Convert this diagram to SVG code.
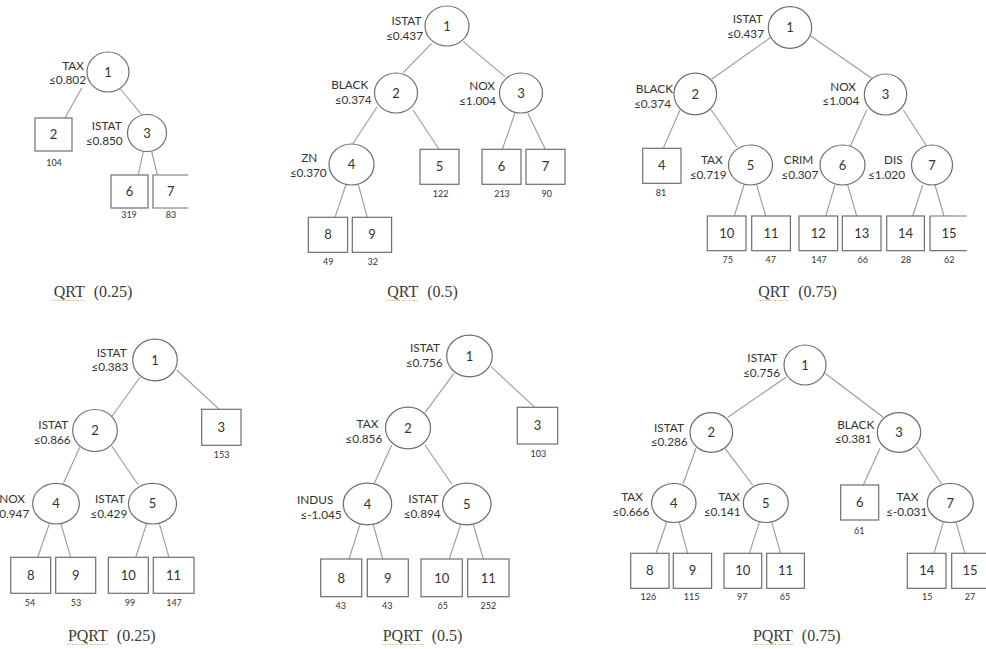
<svg xmlns="http://www.w3.org/2000/svg" width="986" height="649" viewBox="0 0 986 649">
<style>
.n{fill:#fff;stroke:#6e6e6e;stroke-width:1.2}
.b{fill:#fff;stroke:#6e6e6e;stroke-width:1.2}
.c line{stroke:#9a9a9a;stroke-width:1.1}
.id{font-family:Lato,"Open Sans",sans-serif;font-size:13px;fill:#333;text-anchor:middle}
.lb{font-family:Lato,"Open Sans",sans-serif;font-size:11.8px;fill:#333;text-anchor:end}
.ct{font-family:Lato,"Open Sans",sans-serif;font-size:9px;fill:#333;text-anchor:middle}
.tt{font-family:"Liberation Serif","Times New Roman",serif;font-size:16px;fill:#3a3a3a;text-anchor:middle}
.sq{stroke:#e0a040;stroke-width:1;stroke-dasharray:1 1.5;fill:none}
</style>
<rect width="986" height="649" fill="#fff"/>

<!-- Tree 1: QRT (0.25) -->
<g id="qrt025">
<g class="c" id="qrt025-edges">
<line x1="81.7" y1="88" x2="65" y2="118"/>
<line x1="120" y1="88.5" x2="142.7" y2="116"/>
<line x1="143.3" y1="151.5" x2="138.3" y2="175"/>
<line x1="151.7" y1="151.5" x2="157.3" y2="175"/>
</g>
<g id="qrt025-n1"><ellipse class="n" cx="108" cy="72" rx="21" ry="20"/><text class="id" x="108" y="76.5">1</text><text class="lb" x="84" y="69.5">TAX</text><text class="lb" x="86" y="83.8">≤0.802</text></g>
<g id="qrt025-n2"><rect class="b" x="35" y="118" width="37" height="33"/><text class="id" x="53.5" y="139">2</text><text class="ct" x="54" y="166">104</text></g>
<g id="qrt025-n3"><ellipse class="n" cx="147" cy="133" rx="19.5" ry="18.5"/><text class="id" x="147" y="137.5">3</text><text class="lb" x="121.7" y="130.3">ISTAT</text><text class="lb" x="122.7" y="144.5">≤0.850</text></g>
<g id="qrt025-n6"><rect class="b" x="111" y="175" width="37" height="33"/><text class="id" x="129.5" y="196">6</text><text class="ct" x="129" y="218">319</text></g>
<g id="qrt025-n7"><path class="b" d="M188.3,175 H153 V208 H188.3"/><text class="id" x="170.7" y="196">7</text><text class="ct" x="171" y="218">83</text></g>
<g id="qrt025-title"><text class="tt" x="93" y="297">QRT<tspan dx="9">(0.25)</tspan></text><line class="sq" x1="53" y1="300.5" x2="85" y2="300.5"/></g>
</g>

<!-- Tree 2: QRT (0.5) -->
<g id="qrt05">
<g class="c" id="qrt05-edges">
<line x1="431.7" y1="43.3" x2="403.3" y2="72.7"/>
<line x1="463.3" y1="41.7" x2="505" y2="76.7"/>
<line x1="377" y1="107" x2="352.7" y2="144"/>
<line x1="413" y1="110" x2="439" y2="149.3"/>
<line x1="515" y1="113" x2="502.3" y2="149.3"/>
<line x1="527.7" y1="113" x2="545.3" y2="149.3"/>
<line x1="346" y1="184.5" x2="335" y2="217.3"/>
<line x1="358.3" y1="184.5" x2="367.3" y2="217.3"/>
</g>
<g id="qrt05-n1"><ellipse class="n" cx="447" cy="26" rx="22" ry="20"/><text class="id" x="447" y="30.5">1</text><text class="lb" x="421.5" y="25">ISTAT</text><text class="lb" x="423" y="39.5">≤0.437</text></g>
<g id="qrt05-n2"><ellipse class="n" cx="396" cy="93" rx="21.5" ry="20"/><text class="id" x="396" y="97.5">2</text><text class="lb" x="368.3" y="89.3">BLACK</text><text class="lb" x="371.7" y="103.5">≤0.374</text></g>
<g id="qrt05-n3"><ellipse class="n" cx="521" cy="93" rx="21.5" ry="20"/><text class="id" x="521" y="97.5">3</text><text class="lb" x="495" y="90.3">NOX</text><text class="lb" x="496" y="104.5">≤1.004</text></g>
<g id="qrt05-n4"><ellipse class="n" cx="351.5" cy="164.5" rx="22.5" ry="20.5"/><text class="id" x="351.5" y="169">4</text><text class="lb" x="317.3" y="162.3">ZN</text><text class="lb" x="326.7" y="177.3">≤0.370</text></g>
<g id="qrt05-n5"><rect class="b" x="420" y="149.3" width="39" height="35"/><text class="id" x="439.5" y="171">5</text><text class="ct" x="440.7" y="196.6">122</text></g>
<g id="qrt05-n6"><rect class="b" x="482" y="149.3" width="39" height="35"/><text class="id" x="501.5" y="171">6</text><text class="ct" x="502" y="197">213</text></g>
<g id="qrt05-n7"><rect class="b" x="526" y="149.3" width="39" height="35"/><text class="id" x="545.5" y="171">7</text><text class="ct" x="546.7" y="196.6">90</text></g>
<g id="qrt05-n8"><rect class="b" x="308.3" y="217.3" width="39.3" height="35"/><text class="id" x="328" y="239">8</text><text class="ct" x="328.3" y="265">49</text></g>
<g id="qrt05-n9"><rect class="b" x="352.3" y="217.3" width="39.3" height="35"/><text class="id" x="372" y="239">9</text><text class="ct" x="372.7" y="265">32</text></g>
<g id="qrt05-title"><text class="tt" x="422.5" y="297">QRT<tspan dx="9">(0.5)</tspan></text><line class="sq" x1="386.5" y1="300.5" x2="418.5" y2="300.5"/></g>
</g>

<!-- Tree 3: QRT (0.75) -->
<g id="qrt075">
<g class="c" id="qrt075-edges">
<line x1="771.7" y1="36.7" x2="711.7" y2="79.3"/>
<line x1="809.3" y1="35" x2="871.7" y2="78.3"/>
<line x1="680" y1="110" x2="663.3" y2="148.3"/>
<line x1="710.7" y1="109.3" x2="736.7" y2="146.7"/>
<line x1="866.7" y1="110" x2="850" y2="146.7"/>
<line x1="903.3" y1="110" x2="926.7" y2="146"/>
<line x1="744" y1="185" x2="734.3" y2="216"/>
<line x1="756.7" y1="185" x2="765.7" y2="216"/>
<line x1="835" y1="185" x2="825.7" y2="216"/>
<line x1="847.7" y1="185" x2="856.7" y2="216"/>
<line x1="922.7" y1="185" x2="912.7" y2="216"/>
<line x1="935" y1="185" x2="944" y2="216"/>
</g>
<g id="qrt075-n1"><ellipse class="n" cx="790" cy="27.5" rx="21.7" ry="20.8"/><text class="id" x="790" y="32">1</text><text class="lb" x="762.7" y="23.3">ISTAT</text><text class="lb" x="764" y="37.6">≤0.437</text></g>
<g id="qrt075-n2"><ellipse class="n" cx="695.3" cy="94" rx="21.3" ry="20.8"/><text class="id" x="695.3" y="98.5">2</text><text class="lb" x="673" y="93.3">BLACK</text><text class="lb" x="671" y="107.6">≤0.374</text></g>
<g id="qrt075-n3"><ellipse class="n" cx="885.5" cy="94.5" rx="21.2" ry="20.5"/><text class="id" x="885.5" y="99">3</text><text class="lb" x="856" y="91">NOX</text><text class="lb" x="859.3" y="105">≤1.004</text></g>
<g id="qrt075-n4"><rect class="b" x="642.7" y="148.3" width="38.3" height="35"/><text class="id" x="661.8" y="170">4</text><text class="ct" x="661" y="196">81</text></g>
<g id="qrt075-n5"><ellipse class="n" cx="750.5" cy="165" rx="22" ry="20"/><text class="id" x="750.5" y="169.5">5</text><text class="lb" x="722.7" y="164.3">TAX</text><text class="lb" x="726.7" y="179.3">≤0.719</text></g>
<g id="qrt075-n6"><ellipse class="n" cx="842.5" cy="165" rx="22.5" ry="20"/><text class="id" x="842.5" y="169.5">6</text><text class="lb" x="813.3" y="164.3">CRIM</text><text class="lb" x="818.3" y="179.3">≤0.307</text></g>
<g id="qrt075-n7"><ellipse class="n" cx="932" cy="165" rx="20.5" ry="20"/><text class="id" x="932" y="169.5">7</text><text class="lb" x="902.7" y="164.3">DIS</text><text class="lb" x="905" y="179.3">≤1.020</text></g>
<g id="qrt075-n10"><rect class="b" x="707.3" y="216" width="38.7" height="34.7"/><text class="id" x="726.7" y="237.5">10</text><text class="ct" x="727.7" y="263.3">75</text></g>
<g id="qrt075-n11"><rect class="b" x="751.7" y="216" width="38.7" height="34.7"/><text class="id" x="771" y="237.5">11</text><text class="ct" x="770.7" y="263.3">47</text></g>
<g id="qrt075-n12"><rect class="b" x="799" y="216" width="38.7" height="34.7"/><text class="id" x="818.3" y="237.5">12</text><text class="ct" x="819" y="263.3">147</text></g>
<g id="qrt075-n13"><rect class="b" x="842.3" y="216" width="38.7" height="34.7"/><text class="id" x="861.7" y="237.5">13</text><text class="ct" x="862.7" y="263.3">66</text></g>
<g id="qrt075-n14"><rect class="b" x="886.7" y="216" width="37.7" height="34.7"/><text class="id" x="905.5" y="237.5">14</text><text class="ct" x="906" y="263.3">28</text></g>
<g id="qrt075-n15"><path class="b" d="M966.7,216 H930 V250.7 H966.7"/><text class="id" x="949" y="237.5">15</text><text class="ct" x="949.3" y="263.3">62</text></g>
<g id="qrt075-title"><text class="tt" x="797.5" y="297">QRT<tspan dx="9">(0.75)</tspan></text><line class="sq" x1="757.5" y1="300.5" x2="789.5" y2="300.5"/></g>
</g>

<!-- Tree 4: PQRT (0.25) -->
<g id="pqrt025">
<g class="c" id="pqrt025-edges">
<line x1="140" y1="377.3" x2="111.7" y2="416.7"/>
<line x1="176.7" y1="370" x2="219.3" y2="409.3"/>
<line x1="80" y1="446.7" x2="63.3" y2="483.5"/>
<line x1="111.7" y1="446" x2="138.3" y2="485"/>
<line x1="49.3" y1="524" x2="37.7" y2="557.3"/>
<line x1="61" y1="524" x2="70.7" y2="557.3"/>
<line x1="146.7" y1="523.5" x2="135.7" y2="557.3"/>
<line x1="159.3" y1="523.5" x2="169" y2="557.3"/>
</g>
<g id="pqrt025-n1"><ellipse class="n" cx="155" cy="360" rx="22.3" ry="20.8"/><text class="id" x="155" y="364.5">1</text><text class="lb" x="126.7" y="356.6">ISTAT</text><text class="lb" x="128.3" y="371">≤0.383</text></g>
<g id="pqrt025-n2"><ellipse class="n" cx="95" cy="430.5" rx="22.3" ry="21"/><text class="id" x="95" y="435">2</text><text class="lb" x="68.3" y="429.3">ISTAT</text><text class="lb" x="70.7" y="443.5">≤0.866</text></g>
<g id="pqrt025-n3"><rect class="b" x="201.7" y="409.3" width="39.3" height="36"/><text class="id" x="221.3" y="432">3</text><text class="ct" x="221.7" y="458.3">153</text></g>
<g id="pqrt025-n4"><ellipse class="n" cx="56" cy="503.7" rx="23.3" ry="20.3"/><text class="id" x="56" y="508.2">4</text><text class="lb" x="25" y="502.6">NOX</text><text class="lb" x="29.3" y="517.6">≤0.947</text></g>
<g id="pqrt025-n5"><ellipse class="n" cx="152.5" cy="503.7" rx="24" ry="20.3"/><text class="id" x="152.5" y="508.2">5</text><text class="lb" x="125" y="502.6">ISTAT</text><text class="lb" x="127.3" y="517.6">≤0.429</text></g>
<g id="pqrt025-n8"><rect class="b" x="10.7" y="557.3" width="40" height="36"/><text class="id" x="30.7" y="580">8</text><text class="ct" x="30" y="606">54</text></g>
<g id="pqrt025-n9"><rect class="b" x="55.7" y="557.3" width="40" height="36"/><text class="id" x="75.7" y="580">9</text><text class="ct" x="76" y="606">53</text></g>
<g id="pqrt025-n10"><rect class="b" x="108.3" y="557.3" width="40" height="36"/><text class="id" x="128.3" y="580">10</text><text class="ct" x="130" y="606">99</text></g>
<g id="pqrt025-n11"><rect class="b" x="153.3" y="557.3" width="40.7" height="36"/><text class="id" x="173.6" y="580">11</text><text class="ct" x="174" y="606">147</text></g>
<g id="pqrt025-title"><text class="tt" x="111.7" y="641">PQRT<tspan dx="9">(0.25)</tspan></text><line class="sq" x1="67" y1="644.5" x2="108" y2="644.5"/></g>
</g>

<!-- Tree 5: PQRT (0.5) -->
<g id="pqrt05">
<g class="c" id="pqrt05-edges">
<line x1="454" y1="373.3" x2="425" y2="412.7"/>
<line x1="491" y1="366.7" x2="535" y2="407.3"/>
<line x1="391.7" y1="445" x2="374" y2="484"/>
<line x1="425" y1="445" x2="451.7" y2="484"/>
<line x1="360" y1="524.5" x2="349" y2="559"/>
<line x1="373.3" y1="524.5" x2="382.7" y2="559"/>
<line x1="460.7" y1="524.5" x2="449.3" y2="559"/>
<line x1="473.3" y1="524.5" x2="483.3" y2="559"/>
</g>
<g id="pqrt05-n1"><ellipse class="n" cx="469.5" cy="356" rx="22.8" ry="20.8"/><text class="id" x="469.5" y="360.5">1</text><text class="lb" x="440" y="352">ISTAT</text><text class="lb" x="442.7" y="366.6">≤0.756</text></g>
<g id="pqrt05-n2"><ellipse class="n" cx="408" cy="428" rx="22.5" ry="20.8"/><text class="id" x="408" y="432.5">2</text><text class="lb" x="378.3" y="427.6">TAX</text><text class="lb" x="382.3" y="442.6">≤0.856</text></g>
<g id="pqrt05-n3"><rect class="b" x="517.3" y="407.3" width="40.4" height="36.7"/><text class="id" x="537.5" y="430">3</text><text class="ct" x="538.3" y="457.3">103</text></g>
<g id="pqrt05-n4"><ellipse class="n" cx="367.5" cy="504" rx="24.2" ry="20.8"/><text class="id" x="367.5" y="508.5">4</text><text class="lb" x="333.3" y="504.3">INDUS</text><text class="lb" x="341.7" y="519.3">≤-1.045</text></g>
<g id="pqrt05-n5"><ellipse class="n" cx="466.8" cy="504" rx="24.2" ry="20.8"/><text class="id" x="466.8" y="508.5">5</text><text class="lb" x="438.3" y="502.6">ISTAT</text><text class="lb" x="440.7" y="517.6">≤0.894</text></g>
<g id="pqrt05-n8"><rect class="b" x="320.7" y="559" width="41" height="37.7"/><text class="id" x="341.2" y="582.5">8</text><text class="ct" x="340.7" y="609.3">43</text></g>
<g id="pqrt05-n9"><rect class="b" x="367.3" y="559" width="41" height="37.7"/><text class="id" x="387.8" y="582.5">9</text><text class="ct" x="387.3" y="609.3">43</text></g>
<g id="pqrt05-n10"><rect class="b" x="421" y="559" width="41.3" height="37.7"/><text class="id" x="441.7" y="582.5">10</text><text class="ct" x="442.7" y="609.3">65</text></g>
<g id="pqrt05-n11"><rect class="b" x="467.7" y="559" width="41.3" height="37.7"/><text class="id" x="488.3" y="582.5">11</text><text class="ct" x="488.3" y="609.3">252</text></g>
<g id="pqrt05-title"><text class="tt" x="422.5" y="641">PQRT<tspan dx="9">(0.5)</tspan></text><line class="sq" x1="382.5" y1="644.5" x2="423.5" y2="644.5"/></g>
</g>

<!-- Tree 6: PQRT (0.75) -->
<g id="pqrt075">
<g class="c" id="pqrt075-edges">
<line x1="786" y1="377.3" x2="727.7" y2="417.3"/>
<line x1="825" y1="373.3" x2="883.3" y2="417.3"/>
<line x1="696" y1="448.3" x2="683" y2="484"/>
<line x1="725" y1="448.3" x2="752.7" y2="485"/>
<line x1="880" y1="448.3" x2="863.3" y2="485"/>
<line x1="916.7" y1="446.7" x2="941.7" y2="484"/>
<line x1="666.7" y1="522.3" x2="656" y2="553.3"/>
<line x1="679.3" y1="522.3" x2="687.7" y2="553.3"/>
<line x1="759.3" y1="522.3" x2="749.3" y2="553.3"/>
<line x1="771.7" y1="522.3" x2="780.7" y2="553.3"/>
<line x1="943.3" y1="522.3" x2="934" y2="553.3"/>
<line x1="956" y1="522.3" x2="965" y2="553.3"/>
</g>
<g id="pqrt075-n1"><ellipse class="n" cx="805" cy="365" rx="21" ry="20"/><text class="id" x="805" y="369.5">1</text><text class="lb" x="777.3" y="361.6">ISTAT</text><text class="lb" x="780" y="376.6">≤0.756</text></g>
<g id="pqrt075-n2"><ellipse class="n" cx="711.3" cy="432.5" rx="21.3" ry="19.8"/><text class="id" x="711.3" y="437">2</text><text class="lb" x="684" y="431.6">ISTAT</text><text class="lb" x="687.7" y="446">≤0.286</text></g>
<g id="pqrt075-n3"><ellipse class="n" cx="899" cy="432.5" rx="21.7" ry="19.8"/><text class="id" x="899" y="437">3</text><text class="lb" x="874.3" y="428.6">BLACK</text><text class="lb" x="871.7" y="443.3">≤0.381</text></g>
<g id="pqrt075-n4"><ellipse class="n" cx="673.8" cy="503" rx="22.2" ry="19.5"/><text class="id" x="673.8" y="507.5">4</text><text class="lb" x="643" y="501">TAX</text><text class="lb" x="649.3" y="516">≤0.666</text></g>
<g id="pqrt075-n5"><ellipse class="n" cx="765.8" cy="503" rx="22.5" ry="19.5"/><text class="id" x="765.8" y="507.5">5</text><text class="lb" x="740" y="501">TAX</text><text class="lb" x="740.7" y="516">≤0.141</text></g>
<g id="pqrt075-n6"><rect class="b" x="840.7" y="485" width="38" height="35"/><text class="id" x="859.7" y="507">6</text><text class="ct" x="859.3" y="534.3">61</text></g>
<g id="pqrt075-n7"><ellipse class="n" cx="950.3" cy="503" rx="23" ry="19.5"/><text class="id" x="950.3" y="507.5">7</text><text class="lb" x="918.3" y="501">TAX</text><text class="lb" x="927.3" y="516">≤-0.031</text></g>
<g id="pqrt075-n8"><rect class="b" x="630.7" y="553.3" width="38.3" height="35"/><text class="id" x="649.8" y="575">8</text><text class="ct" x="648.3" y="600">126</text></g>
<g id="pqrt075-n9"><rect class="b" x="673.3" y="553.3" width="38.3" height="35"/><text class="id" x="692.5" y="575">9</text><text class="ct" x="691.7" y="600">115</text></g>
<g id="pqrt075-n10"><rect class="b" x="724" y="553.3" width="37.7" height="35"/><text class="id" x="742.8" y="575">10</text><text class="ct" x="742.3" y="600">97</text></g>
<g id="pqrt075-n11"><rect class="b" x="766.7" y="553.3" width="37.7" height="35"/><text class="id" x="785.5" y="575">11</text><text class="ct" x="785" y="600">65</text></g>
<g id="pqrt075-n14"><rect class="b" x="907.3" y="553.3" width="38.7" height="35"/><text class="id" x="926.7" y="575">14</text><text class="ct" x="927.3" y="600">15</text></g>
<g id="pqrt075-n15"><rect class="b" x="951.7" y="553.3" width="38" height="35"/><text class="id" x="970" y="575">15</text><text class="ct" x="970" y="600">27</text></g>
<g id="pqrt075-title"><text class="tt" x="796.7" y="641">PQRT<tspan dx="9">(0.75)</tspan></text><line class="sq" x1="752.5" y1="644.5" x2="793.5" y2="644.5"/></g>
</g>
</svg>
